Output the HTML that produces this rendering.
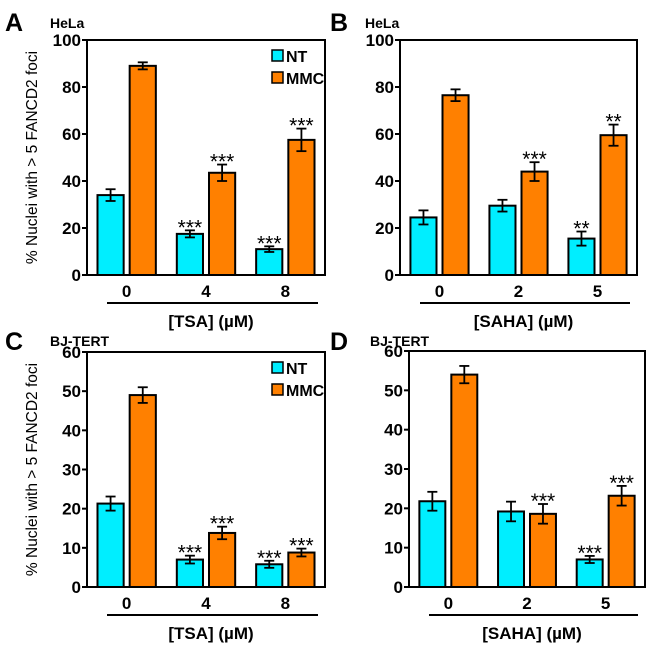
<!DOCTYPE html>
<html><head><meta charset="utf-8"><style>
body{margin:0;background:#fff;}
svg text{font-family:"Liberation Sans",Arial,sans-serif;font-weight:bold;}
</style></head><body>
<svg id="fig" width="650" height="644" viewBox="0 0 650 644" xmlns="http://www.w3.org/2000/svg"></svg>
<script>
const categoriesA=["0","4","8"], ntA=[34,17.5,11], mmcA=[89,43.5,57.5], ntErrA=[2.5,1.5,1.2], mmcErrA=[1.5,3.5,4.8], ntStarA=["","***","***"], mmcStarA=["","***","***"];
const categoriesB=["0","2","5"], ntB=[24.5,29.5,15.5], mmcB=[76.5,44,59.5], ntErrB=[3,2.5,3], mmcErrB=[2.5,4,4.5], ntStarB=["","","**"], mmcStarB=["","***","**"];
const categoriesC=["0","4","8"], ntC=[21.3,7,5.8], mmcC=[49,13.8,8.8], ntErrC=[1.8,1,0.9], mmcErrC=[2,1.6,1], ntStarC=["","***","***"], mmcStarC=["","***","***"];
const categoriesD=["0","2","5"], ntD=[21.8,19.2,7], mmcD=[54,18.6,23.2], ntErrD=[2.4,2.5,0.9], mmcErrD=[2.2,2.5,2.5], ntStarD=["","","***"], mmcStarD=["","***","***"];
const ticksAB=[0,20,40,60,80,100], ticksCD=[0,10,20,30,40,50,60];
const NS="http://www.w3.org/2000/svg", svg=document.getElementById('fig');
function mk(tag,attrs,txt,parent){const e=document.createElementNS(NS,tag);for(const k in attrs)e.setAttribute(k,attrs[k]);if(txt!==undefined)e.textContent=txt;(parent||svg).appendChild(e);return e;}
function panel(id,letter,lx,ly,cell,cx0,cy0,xl,xr,yt,yb,ymax,ticks,cats,nt,mmc,ntE,mmcE,ntS,mmcS,xlabel,ylab,legend){
  const g=mk('g',{});
  
  
  const y=v=>yb-(v/ymax)*(yb-yt);
  const gw=(xr-xl)/3;
  const bw=gw*0.33;
  const L=mk('text',{x:lx,y:ly,'font-size':25},letter,g);
  
  const C=mk('text',{x:cx0,y:cy0,'font-size':14},cell,g);
  
  ticks.forEach(t=>{const tt=mk('text',{x:xl-6,y:y(t)+6,'font-size':17,'text-anchor':'end'},String(t),g);
    
    mk('line',{x1:xl-5,x2:xl,y1:y(t),y2:y(t),stroke:'#000','stroke-width':2},undefined,g);});
  cats.forEach((c,i)=>{
    const cx=xl+gw*(i+0.5);
    [[nt,ntE,ntS,'#00eeff',cx-bw-3],[mmc,mmcE,mmcS,'#ff8000',cx+3]].forEach(([d,e,s,col,bx],j)=>{
      const r=mk('rect',{x:bx,y:y(d[i]),width:bw,height:yb-y(d[i]),fill:col,stroke:'#000','stroke-width':2},undefined,g);
      
      const ex=bx+bw/2,y1=y(d[i]+e[i]),y2=y(d[i]-e[i]);
      mk('line',{x1:ex,x2:ex,y1:y1,y2:y2,stroke:'#000','stroke-width':1.8},undefined,g);
      mk('line',{x1:ex-5,x2:ex+5,y1:y1,y2:y1,stroke:'#000','stroke-width':1.8},undefined,g);
      mk('line',{x1:ex-5,x2:ex+5,y1:y2,y2:y2,stroke:'#000','stroke-width':1.8},undefined,g);
      if(s[i]){const st=mk('text',{x:ex,y:y1+4,'font-size':21,'text-anchor':'middle','style':'font-weight:normal'},s[i],g);
        }
    });
    const xt=mk('text',{x:cx,y:yb+22,'font-size':17,'text-anchor':'middle'},c,g);
    
  });
  mk('rect',{x:xl,y:yt,width:xr-xl,height:yb-yt,fill:'none',stroke:'#000','stroke-width':2},undefined,g);
  mk('line',{x1:xl+20,x2:xr-7,y1:yb+28,y2:yb+28,stroke:'#000','stroke-width':2},undefined,g);
  const xa=mk('text',{x:(xl+xr)/2+5,y:yb+52,'font-size':17,'text-anchor':'middle'},xlabel,g);
  
  if(ylab){const ya=mk('text',{x:0,y:0,'font-size':15.5,'text-anchor':'middle','transform':`translate(${xl-50},${(yt+yb)/2}) rotate(-90)`,style:'font-weight:normal'},'% Nuclei with > 5 FANCD2 foci',g);
    }
  if(legend){[['NT','#00eeff'],['MMC','#ff8000']].forEach(([n,col],k)=>{
    const lg=mk('g',{},undefined,g);
    
    mk('rect',{x:xr-53,y:yt+10+k*22,width:11,height:11,fill:col,stroke:'#000','stroke-width':1.5},undefined,lg);
    mk('text',{x:xr-39,y:yt+22+k*22,'font-size':16},n,lg);});}
}
panel('a','A',5,31,'HeLa',50,28,87,325,40,275,100,ticksAB,categoriesA,ntA,mmcA,ntErrA,mmcErrA,ntStarA,mmcStarA,'[TSA] (µM)',true,true);
panel('b','B',330,31,'HeLa',365,28,400,637,40,275,100,ticksAB,categoriesB,ntB,mmcB,ntErrB,mmcErrB,ntStarB,mmcStarB,'[SAHA] (µM)',false,false);
panel('c','C',5,350,'BJ-TERT',50,346,87,325,352,587,60,ticksCD,categoriesC,ntC,mmcC,ntErrC,mmcErrC,ntStarC,mmcStarC,'[TSA] (µM)',true,true);
panel('d','D',330,350,'BJ-TERT',370,346,409,645,351,587,60,ticksCD,categoriesD,ntD,mmcD,ntErrD,mmcErrD,ntStarD,mmcStarD,'[SAHA] (µM)',false,false);
</script>
</body></html>
